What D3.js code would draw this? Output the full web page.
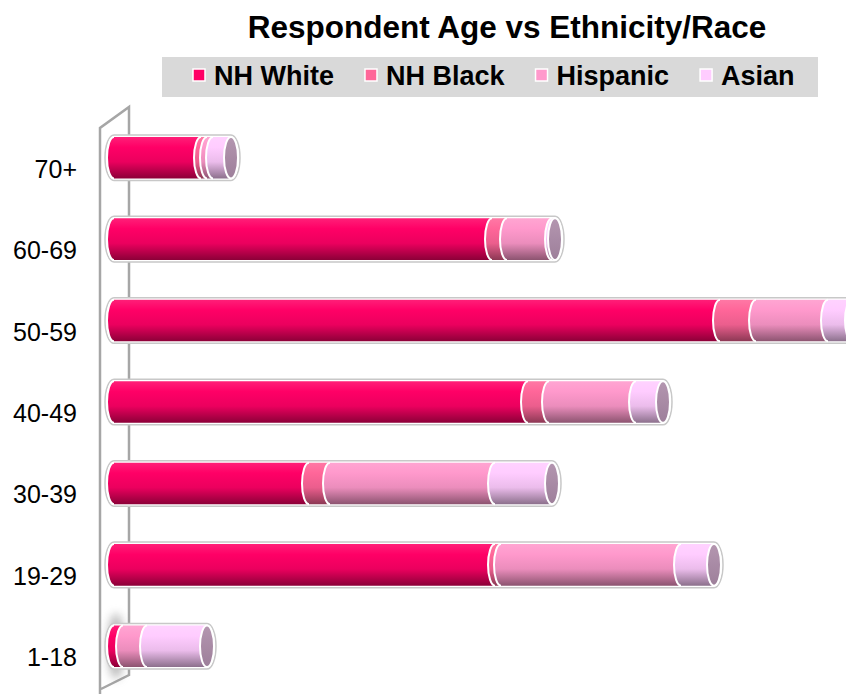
<!DOCTYPE html>
<html>
<head>
<meta charset="utf-8">
<script src="https://cdn.jsdelivr.net/npm/d3@7"></script>
<style>
  html, body { margin: 0; padding: 0; background: #fff; }
  svg { display: block; font-family: 'Liberation Sans', Arial, sans-serif; }
</style>
</head>
<body>
<svg id="chart" width="846" height="694"></svg>
<script>
// chart data, bottom category first
var categories = ['1-18', '19-29', '30-39', '40-49', '50-59', '60-69', '70+'];
var seriesNames = ['NH White', 'NH Black', 'Hispanic', 'Asian'];
var nhWhite = [3, 127, 65, 138, 202, 126, 29];
var nhBlack = [0, 2, 7, 7, 12, 5, 2];
var hispanic = [8, 60, 55, 29, 24, 15, 2];
var asian = [20, 11, 19, 9, 8, 1, 6];
var colors = ['#ff0066', '#ff6699', '#ff99cc', '#ffccff'];
var xMax = 246;

var svg = d3.select('#chart');
var defs = svg.append('defs');

// vertical shading for the cylinders
colors.forEach(function (c, i) {
    var g = defs.append('linearGradient')
        .attr('id', 'grad' + i)
        .attr('x1', 0).attr('y1', 0).attr('x2', 0).attr('y2', 1);
    g.append('stop').attr('offset', '0%').attr('stop-color', d3.interpolateRgb(c, '#ffffff')(0.12));
    g.append('stop').attr('offset', '25%').attr('stop-color', c);
    g.append('stop').attr('offset', '60%').attr('stop-color', d3.interpolateRgb(c, '#000000')(0.08));
    g.append('stop').attr('offset', '100%').attr('stop-color', d3.interpolateRgb(c, '#000000')(0.45));
});
var capGrad = defs.append('linearGradient')
    .attr('id', 'capGrad')
    .attr('x1', 0).attr('y1', 0).attr('x2', 0).attr('y2', 1);
capGrad.append('stop').attr('offset', '0%').attr('stop-color', '#b496b0');
capGrad.append('stop').attr('offset', '100%').attr('stop-color', '#9d7f9a');

defs.append('filter').attr('id', 'blur')
    .attr('x', '-100%').attr('y', '-100%').attr('width', '300%').attr('height', '300%')
    .append('feGaussianBlur').attr('stdDeviation', 5);

// scales
var y = d3.scaleBand()
    .domain(categories.slice().reverse())
    .range([117, 687])
    .paddingInner(0.44)
    .paddingOuter(0.22);

var x = d3.scaleLinear()
    .domain([0, xMax])
    .range([114, 852]);

// title
svg.append('text')
    .attr('x', 507)
    .attr('y', 38)
    .attr('text-anchor', 'middle')
    .attr('font-size', 31.5)
    .attr('font-weight', 'bold')
    .attr('fill', '#000')
    .text('Respondent Age vs Ethnicity/Race');

// legend
svg.append('rect')
    .attr('x', 162).attr('y', 57)
    .attr('width', 656).attr('height', 40)
    .attr('fill', '#d9d9d9');

var lx = 193;
seriesNames.forEach(function (name, i) {
    svg.append('rect')
        .attr('x', lx).attr('y', 69)
        .attr('width', 12).attr('height', 12)
        .attr('fill', colors[i])
        .attr('stroke', '#ffffff')
        .attr('stroke-width', 1.5);
    var t = svg.append('text')
        .attr('x', lx + 21)
        .attr('y', 85)
        .attr('font-size', 27)
        .attr('font-weight', 'bold')
        .attr('fill', '#000')
        .text(name);
    lx = lx + 21 + t.node().getComputedTextLength() + 31;
});

// side wall
var wall = svg.append('g')
    .attr('fill', 'none')
    .attr('stroke', '#a6a6a6')
    .attr('stroke-width', 2.5);
wall.append('path').attr('d', 'M100,694 L100,128 L129,107 L129,675 L101,689');

// shadow of the lowest bar on the wall
svg.append('ellipse')
    .attr('cx', x(0) + 2)
    .attr('cy', y(categories[0]) + y.bandwidth() / 2)
    .attr('rx', 8)
    .attr('ry', y.bandwidth() / 2 + 10)
    .attr('fill', '#777')
    .attr('opacity', 0.55)
    .attr('filter', 'url(#blur)');

// y labels
svg.append('g')
    .selectAll('text')
    .data(categories)
    .join('text')
    .attr('x', 77)
    .attr('y', function (d) { return y(d) + y.bandwidth() / 2 + 20; })
    .attr('text-anchor', 'end')
    .attr('font-size', 25)
    .attr('fill', '#000')
    .text(function (d) { return d; });

// cylinders
var series = [nhWhite, nhBlack, hispanic, asian];
var rx = 7;

categories.forEach(function (cat, ci) {
    var top = y(cat);
    var bw = y.bandwidth();
    var bottom = top + bw;
    var total = d3.sum(series, function (s) { return s[ci]; });
    var xs = x(0);
    var xe = x(total);
    var g = svg.append('g');

    // outer shell
    g.append('path')
        .attr('d', ['M', xs, top, 'L', xe, top,
            'A', rx + 2, bw / 2, 0, 0, 1, xe, bottom,
            'L', xs, bottom,
            'A', rx + 2, bw / 2, 0, 0, 1, xs, top, 'Z'].join(' '))
        .attr('fill', '#ffffff')
        .attr('stroke', '#c8c8c8')
        .attr('stroke-width', 1.5);

    var t0 = top + 2;
    var b0 = bottom - 2;
    var ry = (b0 - t0) / 2;
    var cum = 0;
    series.forEach(function (s, si) {
        var v = s[ci];
        if (!v) return;
        var x0 = x(cum);
        var x1 = x(cum + v);
        cum += v;
        g.append('path')
            .attr('d', ['M', x1, t0, 'L', x0, t0,
                'A', rx, ry, 0, 0, 0, x0, b0,
                'L', x1, b0, 'Z'].join(' '))
            .attr('fill', 'url(#grad' + si + ')');
        g.append('path')
            .attr('d', ['M', x0, t0, 'A', rx, ry, 0, 0, 0, x0, b0].join(' '))
            .attr('fill', 'none')
            .attr('stroke', '#ffffff')
            .attr('stroke-width', 2);
    });

    // end cap
    g.append('ellipse')
        .attr('cx', xe)
        .attr('cy', top + bw / 2)
        .attr('rx', rx)
        .attr('ry', ry)
        .attr('fill', 'url(#capGrad)')
        .attr('stroke', '#ffffff')
        .attr('stroke-width', 2);
});
</script>
</body>
</html>
